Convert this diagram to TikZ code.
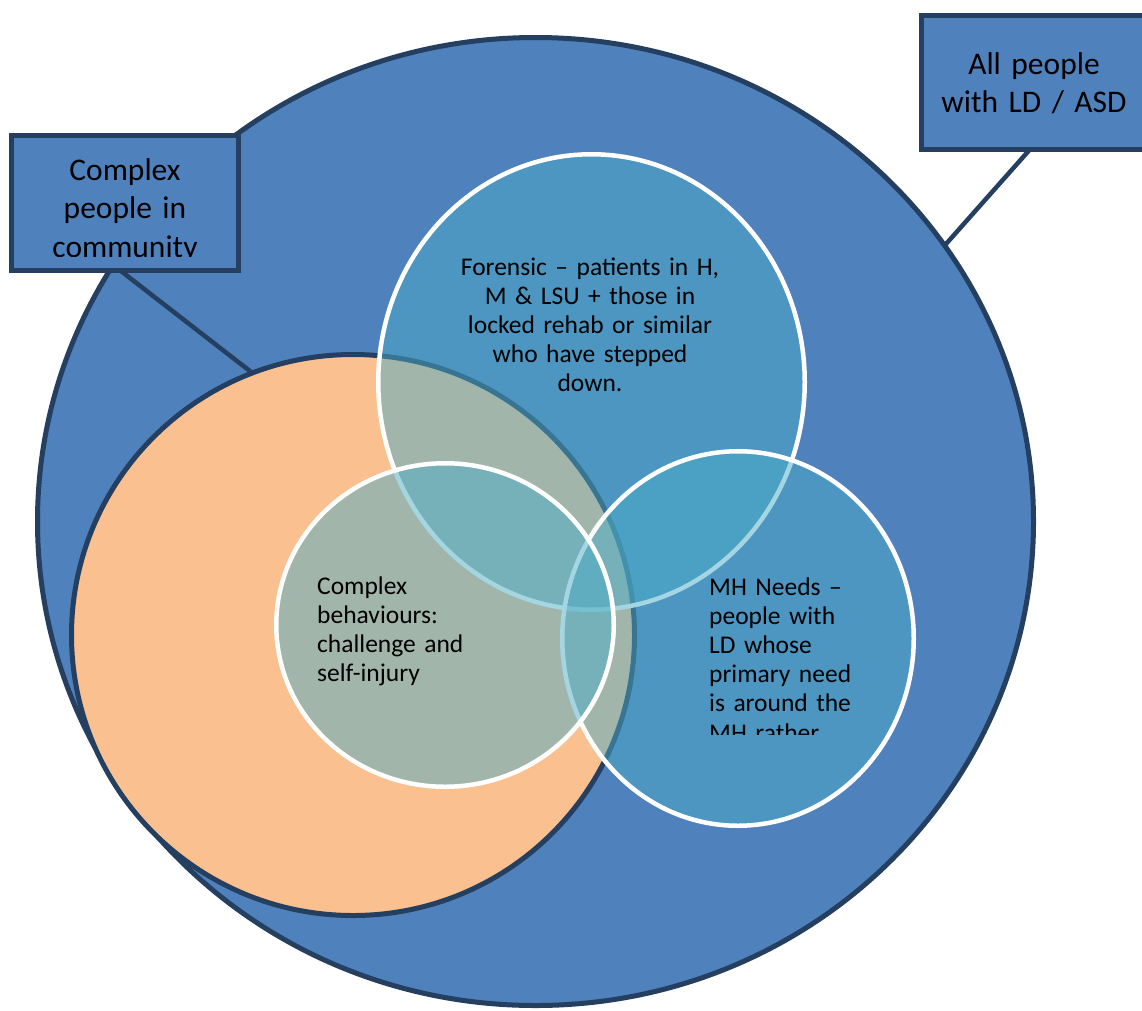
\documentclass[tikz,border=0pt]{standalone}
\usepackage{fontspec}
\setmainfont{Carlito}
\usetikzlibrary{shapes.geometric}
\definecolor{ldblue}{HTML}{4F81BD}
\definecolor{ldnavy}{HTML}{243F60}
\definecolor{ldorange}{HTML}{FAC090}
\definecolor{ldteal}{HTML}{4BACC6}
\tikzset{
  ring/.style={ellipse, inner sep=0pt, outer sep=0pt},
  outerring/.style={ring, draw=ldnavy, line width=5pt, fill=ldblue},
  orangering/.style={ring, draw=ldnavy, line width=5pt, fill=ldorange},
  vennring/.style={ring, draw=white, line width=4.5pt, fill=ldteal, fill opacity=0.5, draw opacity=1},
  labelbox/.style={rectangle, draw=ldnavy, line width=5pt, fill=ldblue, inner sep=0pt, outer sep=0pt},
  connector/.style={draw=ldnavy, line width=4.5pt},
  boxtext/.style={font=\fontsize{31.5}{38.5}\selectfont, align=center, text width=220pt, inner sep=0pt, anchor=base},
  venntext/.style={font=\fontsize{25.5}{29.2}\selectfont, inner sep=0pt, text width=300pt},
}
\begin{document}
\begin{tikzpicture}[x=1pt,y=-1pt]
\useasboundingbox (0,0) rectangle (1142,1010);
% outer population
\node[outerring, minimum width=996pt, minimum height=968pt] (all) at (535.5,521.5) {};
% label box for complex people
\node[labelbox, minimum width=227pt, minimum height=135pt] (cbox) at (125,203) {};
\begin{scope}
  \clip (0,0) rectangle (241,256.5);
  \node[boxtext] (ctext) at (125,180) {Complex\\people in\\community};
\end{scope}
% label box for all people
\node[labelbox, minimum width=226pt, minimum height=134pt] (allbox) at (1034.5,82.5) {};
\node[boxtext] (atext) at (1034,74) {All people\\with LD / ASD};
% connectors
\draw[connector] (allbox.-94) -- (all.34);
% complex people circle
\node[orangering, minimum width=563pt, minimum height=561pt] (orange) at (353,635) {};
\draw[connector] (cbox.-94) -- (orange.111);
% venn circles
\node[vennring, minimum width=426.5pt, minimum height=455.5pt] (forensic) at (591.5,382) {};
\node[vennring, minimum width=351.5pt, minimum height=374.5pt] (mh) at (738,638.5) {};
\node[vennring, minimum width=337.5pt, minimum height=323.5pt] (behav) at (445,625) {};
% texts
\node[venntext, align=center, anchor=base] (ftext) at (590,275)
  {Forensic – patients in H,\\M \& LSU + those in\\locked rehab or similar\\who have stepped\\down.};
\node[venntext, align=left, anchor=base west] (btext) at (317,594)
  {Complex\\behaviours:\\challenge and\\self-injury};
\begin{scope}
  \clip (560,400) rectangle (916,734);
  \node[venntext, align=left, anchor=base west] (mtext) at (709,595)
    {MH Needs –\\people with\\LD whose\\primary need\\is around the\\MH rather};
\end{scope}
\end{tikzpicture}
\end{document}
